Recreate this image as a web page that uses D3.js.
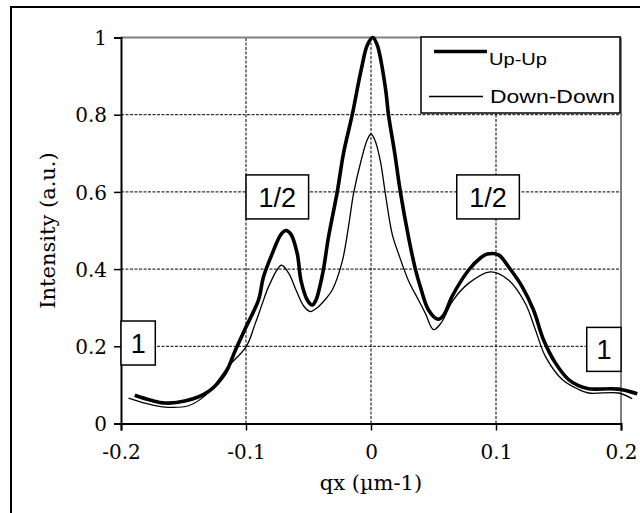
<!DOCTYPE html>
<html><head><meta charset="utf-8">
<script src="https://cdn.jsdelivr.net/npm/d3@7"></script>
<style>html,body{margin:0;padding:0;background:#fff;}svg{display:block;}</style>
</head><body>
<script>
// ---- data ----
const seriesNames = ["Up-Up", "Down-Down"];
const qUp = [-0.189,-0.176,-0.165,-0.149,-0.130,-0.1165,-0.1085,-0.100,-0.090,-0.086,-0.079,-0.072,-0.068,-0.064,-0.059,-0.056,-0.051,-0.047,-0.044,-0.041,-0.038,-0.034,-0.027,-0.022,-0.015,-0.008,-0.003,0.0014,0.005,0.0115,0.014,0.019,0.0235,0.030,0.0355,0.0395,0.046,0.0536,0.058,0.065,0.078,0.088,0.093,0.102,0.110,0.121,0.130,0.138,0.1475,0.158,0.166,0.174,0.198,0.213];
const iUp = [0.073,0.060,0.053,0.058,0.083,0.131,0.19,0.25,0.32,0.38,0.44,0.49,0.50,0.49,0.44,0.37,0.32,0.307,0.32,0.354,0.40,0.483,0.60,0.70,0.80,0.914,0.98,1.0,0.98,0.87,0.80,0.70,0.60,0.483,0.40,0.354,0.294,0.27,0.28,0.33,0.397,0.43,0.439,0.437,0.406,0.354,0.294,0.217,0.157,0.114,0.098,0.09,0.089,0.077];
const qDown = [-0.194,-0.180,-0.167,-0.146,-0.130,-0.114,-0.0997,-0.0925,-0.087,-0.082,-0.0717,-0.066,-0.060,-0.054,-0.0485,-0.043,-0.037,-0.031,-0.023,-0.018,-0.014,-0.008,-0.003,0,0.003,0.0075,0.0115,0.017,0.022,0.030,0.038,0.0435,0.050,0.056,0.065,0.078,0.0955,0.110,0.1235,0.1315,0.1395,0.153,0.165,0.174,0.198,0.209];
const iDown = [0.066,0.052,0.043,0.046,0.080,0.148,0.20,0.26,0.31,0.354,0.41,0.39,0.346,0.305,0.29,0.30,0.32,0.346,0.42,0.51,0.595,0.68,0.735,0.75,0.735,0.68,0.595,0.49,0.44,0.37,0.32,0.285,0.243,0.26,0.316,0.363,0.393,0.372,0.311,0.243,0.174,0.114,0.09,0.079,0.079,0.064];
const xTicks = [-0.2,-0.1,0,0.1,0.2];
const yTicks = [0,0.2,0.4,0.6,0.8,1];
const noteLabels = ["1/2","1/2","1","1"];
const noteQ = [-0.1, 0.0686, -0.2, 0.1726];
const noteI = [0.644, 0.644, 0.2655, 0.249];
const xTitle = "qx (\u00b5m-1)";
const yTitle = "Intensity (a.u.)";

// ---- layout ----
const W = 640, H = 513;
const svg = d3.select("body").append("svg").attr("width", W).attr("height", H);
svg.append("rect").attr("width", W).attr("height", H).attr("fill", "#fff");
// outer frame (cropped on right/bottom)
svg.append("rect").attr("x", 11).attr("y", 7).attr("width", 700).attr("height", 600)
  .attr("fill", "none").attr("stroke", "#000").attr("stroke-width", 2);

const x = d3.scaleLinear().domain([-0.2, 0.2]).range([121, 621]);
const y = d3.scaleLinear().domain([0, 1]).range([423.5, 37.5]);
const serif = "'DejaVu Serif', serif";
const sans = "'Liberation Sans', Arial, sans-serif";

// grid
const grid = svg.append("g").attr("stroke", "#000").attr("stroke-width", 1).attr("stroke-dasharray", "3,1.5");
xTicks.filter(v => v > -0.2 && v < 0.2).forEach(v => {
  grid.append("line").attr("x1", x(v)).attr("x2", x(v)).attr("y1", y(0)).attr("y2", y(1));
});
yTicks.filter(v => v > 0 && v < 1).forEach(v => {
  grid.append("line").attr("x1", x(-0.2)).attr("x2", x(0.2)).attr("y1", y(v)).attr("y2", y(v));
});
// plot border top/right in gray
svg.append("line").attr("x1", x(-0.2)).attr("x2", x(0.2)).attr("y1", y(1)).attr("y2", y(1))
  .attr("stroke", "#808080").attr("stroke-width", 2);
svg.append("line").attr("x1", x(0.2)).attr("x2", x(0.2)).attr("y1", y(1)).attr("y2", y(0))
  .attr("stroke", "#808080").attr("stroke-width", 2);

// axes
const xAxis = d3.axisBottom(x).tickValues(xTicks).tickSize(7).tickPadding(14)
  .tickFormat(d => d === 0 ? "0" : String(d));
const gx = svg.append("g").attr("transform", `translate(0,${y(0)})`).call(xAxis);
const yAxis = d3.axisLeft(y).tickValues(yTicks).tickSize(7).tickPadding(7)
  .tickFormat(d => String(d));
const gy = svg.append("g").attr("transform", `translate(${x(-0.2)},0)`).call(yAxis);
[gx, gy].forEach(g => {
  g.select(".domain").attr("stroke", "#000").attr("stroke-width", 2);
  g.selectAll(".tick line").attr("stroke", "#000").attr("stroke-width", 1.5);
  g.selectAll(".tick text").attr("font-family", serif).attr("font-size", 20).attr("fill", "#000");
});
gy.selectAll(".tick text").attr("dy", "0.36em");

// titles
svg.append("text").attr("x", 371).attr("y", 490).attr("text-anchor", "middle")
  .attr("font-family", serif).attr("font-size", 21).text(xTitle);
svg.append("text").attr("transform", `translate(55,${(y(0)+y(1))/2}) rotate(-90)`).attr("text-anchor", "middle")
  .attr("font-family", serif).attr("font-size", 21).text(yTitle);

// lines
const line = d3.line().x(d => x(d[0])).y(d => y(d[1])).curve(d3.curveCatmullRom.alpha(0.5));
const upData = qUp.map((q, i) => [q, iUp[i]]);
const downData = qDown.map((q, i) => [q, iDown[i]]);
svg.append("path").datum(downData).attr("d", line).attr("fill", "none").attr("stroke", "#000").attr("stroke-width", 1.3);
svg.append("path").datum(upData).attr("d", line).attr("fill", "none").attr("stroke", "#000").attr("stroke-width", 3.6).attr("stroke-linejoin", "round");

// annotation boxes
noteLabels.forEach((lab, i) => {
  const bx = x(noteQ[i]), by = y(noteI[i]);
  const bw = lab.length > 1 ? 62.6 : 34.3, bh = 44;
  svg.append("rect").attr("x", bx).attr("y", by).attr("width", bw).attr("height", bh)
    .attr("fill", "#fff").attr("stroke", "#000").attr("stroke-width", 1.5);
  svg.append("text").attr("x", bx + bw / 2).attr("y", by + bh / 2 + 10).attr("text-anchor", "middle")
    .attr("font-family", sans).attr("font-size", 27).text(lab);
});

// legend
const lg = svg.append("g");
lg.append("rect").attr("x", 421).attr("y", 37).attr("width", 199).attr("height", 76)
  .attr("fill", "#fff").attr("stroke", "#000").attr("stroke-width", 1.5);
lg.append("line").attr("x1", 434).attr("x2", 487).attr("y1", 51.5).attr("y2", 51.5).attr("stroke", "#000").attr("stroke-width", 3.6);
lg.append("line").attr("x1", 429).attr("x2", 483).attr("y1", 96.5).attr("y2", 96.5).attr("stroke", "#000").attr("stroke-width", 1.3);
lg.append("text").attr("x", 489).attr("y", 64.5).attr("font-family", sans).attr("font-size", 17)
  .attr("textLength", 58).attr("lengthAdjust", "spacingAndGlyphs").text(seriesNames[0]);
lg.append("text").attr("x", 490).attr("y", 102.8).attr("font-family", sans).attr("font-size", 18.5)
  .attr("textLength", 125).attr("lengthAdjust", "spacingAndGlyphs").text(seriesNames[1]);
</script>
</body></html>
